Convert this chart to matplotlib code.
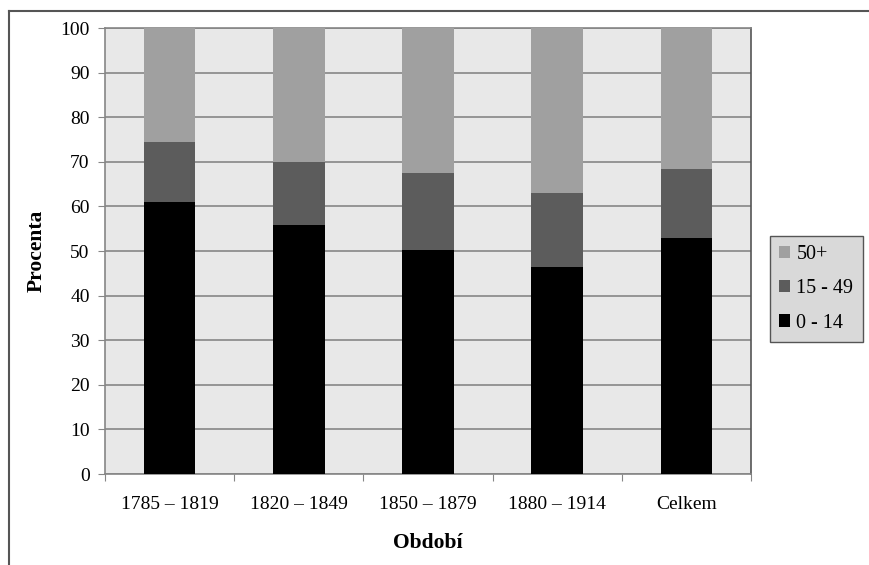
import numpy as np
import matplotlib.pyplot as plt
from matplotlib.lines import Line2D
from matplotlib.patches import Patch

plt.rcParams['font.family'] = ['Liberation Serif', 'DejaVu Serif']

periods = ['1785 – 1819', '1820 – 1849', '1850 – 1879', '1880 – 1914', 'Celkem']
age_0_14 = [61.0, 55.8, 50.2, 46.4, 52.9]
age_15_49 = [13.4, 14.2, 17.4, 16.7, 15.5]
age_50 = [25.6, 30.0, 32.4, 36.9, 31.6]

colors = {'0 - 14': '#000000', '15 - 49': '#5c5c5c', '50+': '#a0a0a0'}

fig = plt.figure(figsize=(8.69, 5.65), dpi=100)
ax = fig.add_axes([0.1208, 0.161, 0.7434, 0.7894])
ax.set_facecolor('#e8e8e8')

x = np.arange(len(periods))
w = 0.4
b1 = np.array(age_0_14)
b2 = b1 + np.array(age_15_49)
ax.bar(x, age_0_14, w, color=colors['0 - 14'], zorder=3)
ax.bar(x, age_15_49, w, bottom=b1, color=colors['15 - 49'], zorder=3)
ax.bar(x, age_50, w, bottom=b2, color=colors['50+'], zorder=3)

ax.set_xlim(-0.5, len(periods) - 0.5)
ax.set_ylim(0, 100)
ax.set_yticks(range(0, 101, 10))
ax.yaxis.grid(True, color='#868686', linewidth=1.2, zorder=1)
ax.set_axisbelow(True)

# ticks between categories, labels at centers
ax.set_xticks(np.arange(-0.5, len(periods) + 0.5, 1))
ax.set_xticklabels([])
ax.set_xticks(x, minor=True)
ax.set_xticklabels(periods, minor=True)
ax.tick_params(axis='x', which='minor', length=0, pad=16, labelsize=14)
ax.tick_params(axis='x', which='major', length=5, color='#868686')
ax.tick_params(axis='y', length=5, color='#868686', labelsize=14, pad=6)

for s in ax.spines.values():
    s.set_color('#868686')
    s.set_linewidth(1.2)
ax.spines['right'].set_color('#555555')

ax.set_ylabel('Procenta', fontsize=15.5, fontweight='bold', labelpad=10)
ax.set_xlabel('Období', fontsize=15.5, fontweight='bold', labelpad=14)

handles = [Patch(facecolor=colors[k], edgecolor='none') for k in ['50+', '15 - 49', '0 - 14']]
leg = fig.legend(handles, ['50+', '15 - 49', '0 - 14'],
                 loc='center', bbox_to_anchor=(0.9395, 0.4885),
                 fontsize=14.5, frameon=True, fancybox=False,
                 handlelength=0.55, handleheight=0.55, handletextpad=0.3,
                 labelspacing=0.75, borderpad=0.45, borderaxespad=0)
leg.get_frame().set_facecolor('#d9d9d9')
leg.get_frame().set_edgecolor('#555555')
leg.get_frame().set_linewidth(1.0)
leg.get_frame().set_alpha(1)

# outer chart frame (cut at right and bottom)
fx0, fy0 = 9 / 869, 1 - 10.5 / 565
fig.add_artist(Line2D([fx0, 1], [fy0, fy0], color='#555555', linewidth=1.5))
fig.add_artist(Line2D([fx0, fx0], [0, fy0], color='#555555', linewidth=1.5))

fig.savefig('out.png', dpi=100)
